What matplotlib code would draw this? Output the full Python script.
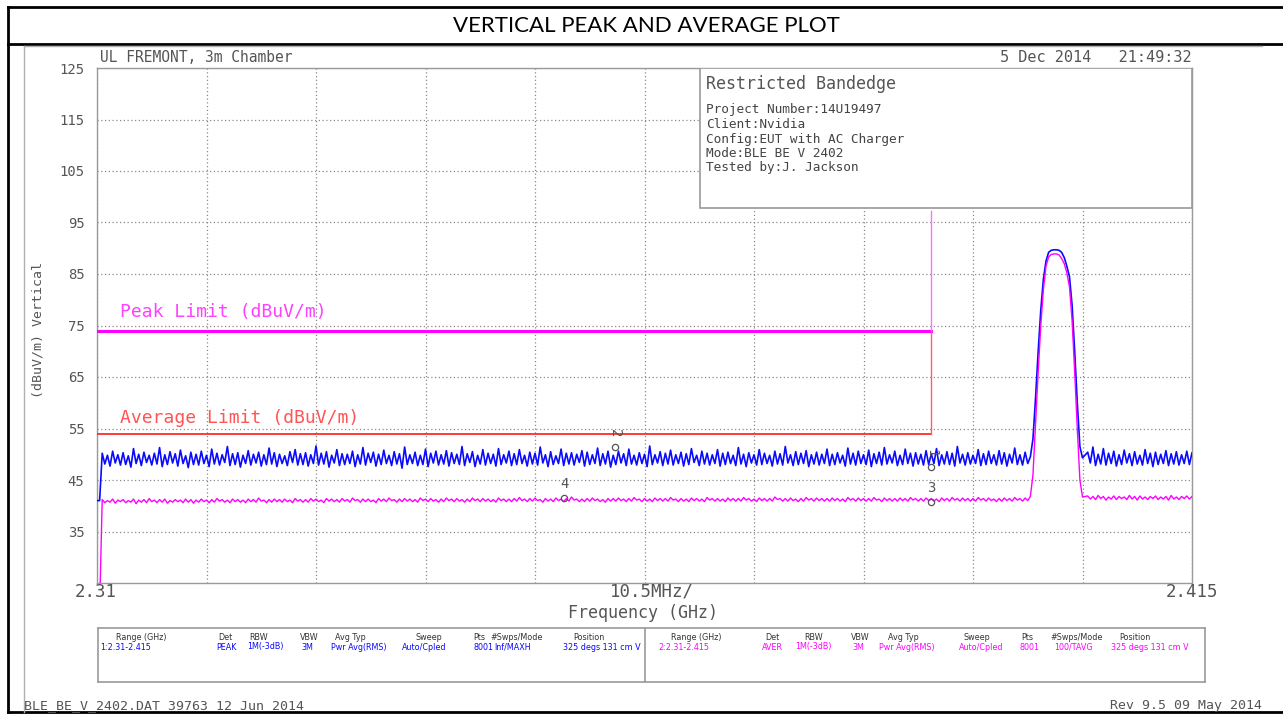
import numpy as np
import matplotlib
matplotlib.use("Agg")
import matplotlib.pyplot as plt
from matplotlib.lines import Line2D
from matplotlib.patches import Rectangle

W, H = 1283, 715

# ---- trace readings (dBuV/m) ----
# noise floor read per 0.5 MHz bin as (max, min) pairs, carrier read every 0.25 MHz
blue_hi = [
    41.0, 50.2, 49.8, 50.6, 49.9, 50.3, 49.7, 51.1, 50.0, 50.4, 49.8, 50.2, 51.3, 49.9, 50.5, 50.1, 50.8, 49.7, 50.4, 50.0,
    50.6, 49.8, 51.0, 50.2, 49.9, 51.5, 50.1, 50.3, 49.8, 50.7, 50.0, 50.4, 49.9, 51.2, 50.3, 50.0, 49.7, 50.5, 50.9, 50.1,
    50.3, 49.9, 51.6, 50.2, 50.5, 49.8, 50.9, 50.1, 50.0, 50.6, 49.9, 51.3, 50.2, 50.4, 50.0, 50.8, 49.8, 50.5, 50.1, 51.4,
    49.9, 50.4, 49.8, 51.0, 50.2, 50.6, 49.9, 50.7, 50.3, 50.0, 51.5, 50.1, 50.5, 49.8, 50.9, 50.2, 50.0, 51.1, 49.9, 50.6,
    50.1, 50.9, 49.8, 50.4, 50.2, 51.4, 49.9, 50.5, 49.7, 51.0, 50.2, 50.3, 50.0, 50.7, 50.4, 49.9, 51.2, 50.1, 50.6, 49.8,
    50.6, 50.1, 51.0, 49.8, 50.3, 50.0, 51.6, 49.9, 50.5, 50.2, 50.8, 49.9, 50.4, 50.1, 51.1, 49.8, 50.6, 50.2, 49.9, 50.9,
    50.2, 50.4, 49.8, 51.3, 50.0, 50.3, 49.9, 50.9, 50.2, 49.8, 50.6, 50.1, 51.5, 49.9, 50.5, 50.2, 50.7, 49.9, 50.4, 50.0,
    51.0, 50.0, 50.3, 49.8, 51.2, 50.2, 50.6, 49.9, 50.8, 50.1, 50.4, 51.3, 49.9, 50.6, 49.8, 51.0, 50.2, 50.3, 50.0, 50.7,
    50.1, 51.1, 49.9, 50.5, 50.2, 51.5, 50.0, 50.3, 49.8, 50.9, 50.1, 50.6, 49.9, 50.7, 50.3, 50.0, 51.2, 49.9, 50.4, 49.5,
]
blue_lo = [
    41.0, 48.1, 47.7, 48.3, 47.9, 48.0, 47.5, 48.2, 47.8, 48.4, 47.9, 48.1, 47.6, 48.0, 48.3, 47.7, 48.2, 47.4, 48.0, 47.9,
    48.2, 47.6, 48.1, 47.9, 48.4, 47.8, 48.0, 47.5, 48.2, 47.9, 48.3, 47.7, 48.0, 48.1, 47.6, 48.2, 47.8, 48.4, 47.9, 48.0,
    47.7, 48.2, 47.9, 48.1, 47.5, 48.3, 47.8, 48.0, 48.2, 47.6, 48.1, 47.9, 48.4, 47.7, 48.0, 48.2, 47.8, 48.1, 47.3, 48.0,
    48.2, 47.8, 48.0, 47.6, 48.3, 47.9, 48.1, 47.7, 48.2, 48.0, 47.8, 48.4, 47.6, 48.1, 47.9, 48.2, 47.7, 48.0, 48.3, 47.8,
    48.0, 48.2, 47.7, 48.1, 47.9, 48.3, 47.6, 48.0, 48.2, 47.8, 48.1, 47.9, 48.4, 47.7, 48.0, 48.2, 47.8, 48.1, 47.5, 48.0,
    48.3, 47.8, 48.1, 47.9, 48.2, 47.6, 48.0, 48.3, 47.8, 48.1, 47.9, 48.2, 47.7, 48.0, 48.4, 47.8, 48.1, 47.9, 48.2, 47.7,
    48.0, 48.2, 47.8, 48.1, 47.6, 48.3, 47.9, 48.0, 48.2, 47.7, 48.1, 47.9, 48.3, 47.8, 48.0, 48.2, 47.6, 48.1, 47.9, 48.2,
    47.8, 48.0, 48.3, 47.7, 48.1, 47.9, 48.2, 48.0, 47.6, 48.2, 47.9, 48.1, 48.3, 47.8, 48.0, 48.2, 47.7, 48.1, 47.9, 48.0,
    48.2, 47.8, 48.1, 48.0, 47.7, 48.3, 47.9, 48.1, 48.2, 47.8, 48.0, 48.2, 47.9, 48.1, 47.7, 48.3, 48.0, 47.9, 48.2, 53.0,
]
blue_peak = [61.0, 70.0, 78.0, 84.0, 87.5, 89.2, 89.6, 89.7, 89.7,
             89.6, 89.2, 88.2, 86.5, 84.5, 79.0, 70.0, 60.0, 51.5, 49.3]
blue_tail_hi = [50.4, 51.4, 50.0, 51.1, 50.2, 50.6, 49.9, 50.8, 50.1, 50.5, 49.8,
                50.9, 50.2, 50.4, 50.0, 50.7, 50.1, 50.5, 49.9, 50.6, 50.3]
blue_tail_lo = [48.3, 47.8, 48.1, 47.9, 48.2, 47.7, 48.0, 48.3, 47.8, 48.1, 47.9,
                48.2, 47.6, 48.0, 48.2, 47.8, 48.1, 47.9, 48.2, 48.0, 48.1]

mag_hi = [
    20.0, 41.2, 41.0, 41.3, 41.1, 41.2, 41.0, 41.3, 41.1, 41.2, 41.4, 41.1, 41.2, 41.3, 41.0, 41.2, 41.1, 41.3, 41.2, 41.1,
    41.3, 41.1, 41.2, 41.4, 41.2, 41.1, 41.3, 41.2, 41.1, 41.3, 41.2, 41.5, 41.1, 41.2, 41.3, 41.2, 41.3, 41.1, 41.4, 41.2,
    41.2, 41.4, 41.3, 41.1, 41.4, 41.3, 41.2, 41.4, 41.2, 41.5, 41.2, 41.3, 41.3, 41.1, 41.4, 41.3, 41.5, 41.2, 41.3, 41.4,
    41.3, 41.2, 41.5, 41.3, 41.4, 41.2, 41.3, 41.5, 41.3, 41.4, 41.2, 41.3, 41.5, 41.3, 41.4, 41.3, 41.2, 41.5, 41.3, 41.3,
    41.4, 41.6, 41.3, 41.4, 41.5, 41.2, 41.4, 41.3, 41.5, 41.3, 41.4, 41.7, 41.3, 41.3, 41.4, 41.5, 41.3, 41.2, 41.4, 41.4,
    41.5, 41.3, 41.4, 41.6, 41.3, 41.4, 41.3, 41.5, 41.4, 41.4, 41.6, 41.3, 41.4, 41.3, 41.5, 41.4, 41.3, 41.6, 41.4, 41.4,
    41.3, 41.5, 41.4, 41.4, 41.6, 41.4, 41.3, 41.5, 41.4, 41.4, 41.7, 41.4, 41.4, 41.5, 41.3, 41.4, 41.6, 41.4, 41.5, 41.4,
    41.4, 41.5, 41.4, 41.3, 41.6, 41.4, 41.5, 41.4, 41.4, 41.6, 41.3, 41.5, 41.4, 41.4, 41.5, 41.4, 41.6, 41.4, 41.4, 41.5,
    41.4, 41.3, 41.5, 41.4, 41.6, 41.4, 41.5, 41.4, 41.4, 41.6, 41.4, 41.5, 41.3, 41.4, 41.5, 41.4, 41.6, 41.4, 41.5, 41.8,
]
mag_lo = [
    20.0, 40.6, 40.7, 40.5, 40.8, 40.6, 40.7, 40.4, 40.7, 40.6, 40.8, 40.6, 40.7, 40.5, 40.7, 40.8, 40.6, 40.7, 40.5, 40.7,
    40.8, 40.6, 40.7, 40.9, 40.7, 40.6, 40.8, 40.7, 40.6, 40.8, 40.7, 40.9, 40.6, 40.7, 40.8, 40.7, 40.8, 40.6, 40.9, 40.7,
    40.7, 40.9, 40.8, 40.6, 40.9, 40.8, 40.7, 40.9, 40.7, 41.0, 40.7, 40.8, 40.8, 40.6, 40.9, 40.8, 41.0, 40.7, 40.8, 40.9,
    40.8, 40.7, 41.0, 40.8, 40.9, 40.7, 40.8, 41.0, 40.8, 40.9, 40.7, 40.8, 41.0, 40.8, 40.9, 40.8, 40.7, 41.0, 40.8, 40.8,
    40.9, 41.0, 40.8, 40.9, 41.0, 40.7, 40.9, 40.8, 41.0, 40.8, 40.9, 41.1, 40.8, 40.8, 40.9, 41.0, 40.8, 40.7, 40.9, 40.9,
    41.0, 40.8, 40.9, 41.1, 40.8, 40.9, 40.8, 41.0, 40.9, 40.9, 41.1, 40.8, 40.9, 40.8, 41.0, 40.9, 40.8, 41.1, 40.9, 40.9,
    40.8, 41.0, 40.9, 40.9, 41.1, 40.9, 40.8, 41.0, 40.9, 40.9, 41.2, 40.9, 40.9, 41.0, 40.8, 40.9, 41.1, 40.9, 41.0, 40.9,
    40.9, 41.0, 40.9, 40.8, 41.1, 40.9, 41.0, 40.9, 40.9, 41.1, 40.8, 41.0, 40.9, 40.9, 41.0, 40.9, 41.1, 40.9, 40.9, 41.0,
    40.9, 40.8, 41.0, 40.9, 41.1, 40.9, 41.0, 40.9, 40.9, 41.1, 40.9, 41.0, 40.8, 40.9, 41.0, 40.9, 41.1, 40.9, 41.0, 46.0,
]
mag_peak = [56.0, 66.0, 75.0, 82.0, 86.5, 88.3, 88.8, 88.9, 88.9,
            88.7, 88.0, 87.0, 85.2, 82.5, 76.0, 66.0, 55.0, 45.0, 41.7]
mag_tail_hi = [41.9, 41.8, 42.0, 41.8, 41.7, 41.9, 41.8, 41.7, 42.0, 41.8, 41.9,
               41.7, 41.8, 41.9, 41.7, 41.8, 42.0, 41.7, 41.8, 41.9, 41.8]
mag_tail_lo = [41.3, 41.2, 41.4, 41.1, 41.3, 41.2, 41.4, 41.2, 41.3, 41.1, 41.3,
               41.2, 41.4, 41.2, 41.3, 41.1, 41.3, 41.2, 41.4, 41.3, 41.2]

# limits
limit_freq = [2.31, 2.39]
peak_limit = 74
avg_limit = 54
limit_top = 97.2

# markers
marker_ids = ["1", "2", "3", "4"]
marker_freq = [2.39, 2.3597, 2.39, 2.3548]
marker_level = [47.5, 51.4, 40.7, 41.5]

# text blocks
info_title = "Restricted Bandedge"
info_lines = ["Project Number:14U19497", "Client:Nvidia", "Config:EUT with AC Charger",
              "Mode:BLE BE V 2402", "Tested by:J. Jackson"]
headers = ["Range (GHz)", "Det", "RBW", "VBW", "Avg Typ", "Sweep", "Pts", "#Swps/Mode", "Position"]
trace1_vals = ["1:2.31-2.415", "PEAK", "1M(-3dB)", "3M", "Pwr Avg(RMS)", "Auto/Cpled", "8001", "Inf/MAXH", "325 degs 131 cm V"]
trace2_vals = ["2:2.31-2.415", "AVER", "1M(-3dB)", "3M", "Pwr Avg(RMS)", "Auto/Cpled", "8001", "100/TAVG", "325 degs 131 cm V"]


def pairs(hi, lo):
    out = np.empty(2 * len(hi))
    out[0::2] = hi
    out[1::2] = lo
    return out


def build_trace(hi, lo, peak, tail_hi, tail_lo):
    noise = pairs(hi, lo)
    tail = pairs(tail_hi, tail_lo)
    f_noise = 2.31 + 0.00025 * np.arange(len(noise))
    f_peak = 2.4000 + 0.00025 * np.arange(len(peak))
    f_tail = 2.405 + 0.00025 * np.arange(len(tail))
    return (np.concatenate([f_noise, f_peak, f_tail]),
            np.concatenate([noise, peak, tail]))


freq_b, blue = build_trace(blue_hi, blue_lo, blue_peak, blue_tail_hi, blue_tail_lo)
freq_m, mag = build_trace(mag_hi, mag_lo, mag_peak, mag_tail_hi, mag_tail_lo)

MONO = "DejaVu Sans Mono"
GRAY = "#555555"
BLUE = "#0a0aff"
MAGENTA = "#ff00ff"
RED = "#ff2a2a"

fig = plt.figure(figsize=(W / 100, H / 100), dpi=100)


def ftext(x, y, s, **kw):
    return fig.text(x / W, 1 - y / H, s, **kw)


def fline(xs, ys, **kw):
    fig.add_artist(Line2D([x / W for x in xs], [1 - y / H for y in ys], **kw))


# outer page frame
fline([8, W], [7, 7], color="black", lw=2)
fline([8, W], [44, 44], color="black", lw=2)
fline([8, W], [712, 712], color="black", lw=2)
fline([8, 8], [7, 712], color="black", lw=2)
ftext(646, 26, "VERTICAL PEAK AND AVERAGE PLOT", ha="center", va="center",
      fontsize=16, family="Lato", color="black")

# analyzer printout frame
fline([24, 1262], [46, 46], color="#b0b0b0", lw=1)
fline([24, 24], [46, 712], color="#b0b0b0", lw=1)

# main axes
ax = fig.add_axes([97 / W, 1 - 583 / H, 1095 / W, 515 / H])
ax.set_xlim(2.31, 2.415)
ax.set_ylim(25, 125)
ax.set_xticks(np.linspace(2.31, 2.415, 11))
ax.set_xticklabels([])
ax.set_yticks(np.arange(35, 126, 10))
ax.tick_params(length=0, pad=9, labelsize=10, labelcolor=GRAY)
for lbl in ax.get_yticklabels():
    lbl.set_fontfamily(MONO)
ax.grid(True, linestyle=(0, (1, 2)), color="#8a8a8a", lw=0.9)
for sp in ax.spines.values():
    sp.set_color("#9a9a9a")
    sp.set_linewidth(1)

# limit lines
ax.plot(limit_freq, [peak_limit, peak_limit], color=MAGENTA, lw=2.2, zorder=3)
ax.plot([limit_freq[1], limit_freq[1]], [peak_limit, limit_top], color="#ff70ff", lw=1, zorder=3)
ax.plot(limit_freq, [avg_limit, avg_limit], color=RED, lw=1.3, zorder=3)
ax.plot([limit_freq[1], limit_freq[1]], [avg_limit, peak_limit], color="#ff6060", lw=1, zorder=3)
ax.text(2.3122, peak_limit + 2.6, "Peak Limit (dBuV/m)", color=MAGENTA, fontsize=13,
        family=MONO, alpha=0.75, zorder=4)
ax.text(2.3122, avg_limit + 2.0, "Average Limit (dBuV/m)", color=RED, fontsize=13,
        family=MONO, alpha=0.8, zorder=4)

# traces
ax.plot(freq_b, blue, color=BLUE, lw=1.2, zorder=5)
ax.plot(freq_m, mag, color=MAGENTA, lw=1.0, zorder=6)

# markers
rot = {"1": -90, "2": -90, "3": 0, "4": 0}
for mid, mf, ml in zip(marker_ids, marker_freq, marker_level):
    ax.plot(mf, ml, marker="o", ms=4.5, mfc="none", mec=GRAY, mew=0.9, zorder=7)
    ax.annotate(mid, (mf, ml), xytext=(0, 10), textcoords="offset points",
                ha="center", va="center", fontsize=10, family=MONO, color=GRAY,
                rotation=rot[mid], zorder=7)

# info box
ax.add_patch(Rectangle(((700 - 97) / 1095, (583 - 208) / 515), (1192 - 700) / 1095,
                       (208 - 68) / 515, transform=ax.transAxes, facecolor="white",
                       edgecolor="#9a9a9a", lw=1.2, zorder=8))
ftext(706, 84, info_title, va="center", fontsize=12, family=MONO, color=GRAY)
for i, line in enumerate(info_lines):
    ftext(706, 110 + i * 14.5, line, va="center", fontsize=9.2, family=MONO, color="#444444")

# header texts
ftext(100, 57, "UL FREMONT, 3m Chamber", va="center", fontsize=10.5, family=MONO, color=GRAY)
ftext(1192, 57, "5 Dec 2014   21:49:32", ha="right", va="center", fontsize=11, family=MONO, color=GRAY)

# axis texts
ftext(96, 592, "2.31", ha="center", va="center", fontsize=12.5, family=MONO, color=GRAY)
ftext(1192, 592, "2.415", ha="center", va="center", fontsize=12.5, family=MONO, color=GRAY)
ftext(652, 592, "10.5MHz/", ha="center", va="center", fontsize=12.5, family=MONO, color=GRAY)
ftext(643, 613, "Frequency (GHz)", ha="center", va="center", fontsize=12, family=MONO, color=GRAY)
ftext(38, 330, "(dBuV/m) Vertical", ha="center", va="center", rotation=90, fontsize=9.5,
      family=MONO, color=GRAY)

# settings table
table_ax = fig.add_axes([98 / W, 1 - 682 / H, (1205 - 98) / W, (682 - 628) / H])
table_ax.set_xticks([])
table_ax.set_yticks([])
for sp in table_ax.spines.values():
    sp.set_color("#9a9a9a")
    sp.set_linewidth(1.2)
fline([645, 645], [628, 682], color="#9a9a9a", lw=1.2)

hdr1_x = [116, 218, 249, 300, 335, 416, 473, 490, 573]
val1_x = [100, 216, 247, 301, 331, 402, 473, 494, 563]
hdr2_x = [671, 765, 804, 851, 888, 964, 1021, 1050, 1119]
val2_x = [658, 762, 795, 852, 879, 959, 1020, 1054, 1111]
for h, v, hx, vx in zip(headers, trace1_vals, hdr1_x, val1_x):
    ftext(hx, 637, h, va="center", fontsize=5.8, color="#333333")
    ftext(vx, 647, v, va="center", fontsize=5.8, color=BLUE)
for h, v, hx, vx in zip(headers, trace2_vals, hdr2_x, val2_x):
    ftext(hx, 637, h, va="center", fontsize=5.8, color="#333333")
    ftext(vx, 647, v, va="center", fontsize=5.8, color=MAGENTA)

# footer
ftext(24, 706, "BLE_BE_V_2402.DAT 39763 12 Jun 2014", va="center", fontsize=9.5, family=MONO, color=GRAY)
ftext(1262, 706, "Rev 9.5 09 May 2014", ha="right", va="center", fontsize=9.5, family=MONO, color=GRAY)

fig.savefig("out.png", dpi=100)
